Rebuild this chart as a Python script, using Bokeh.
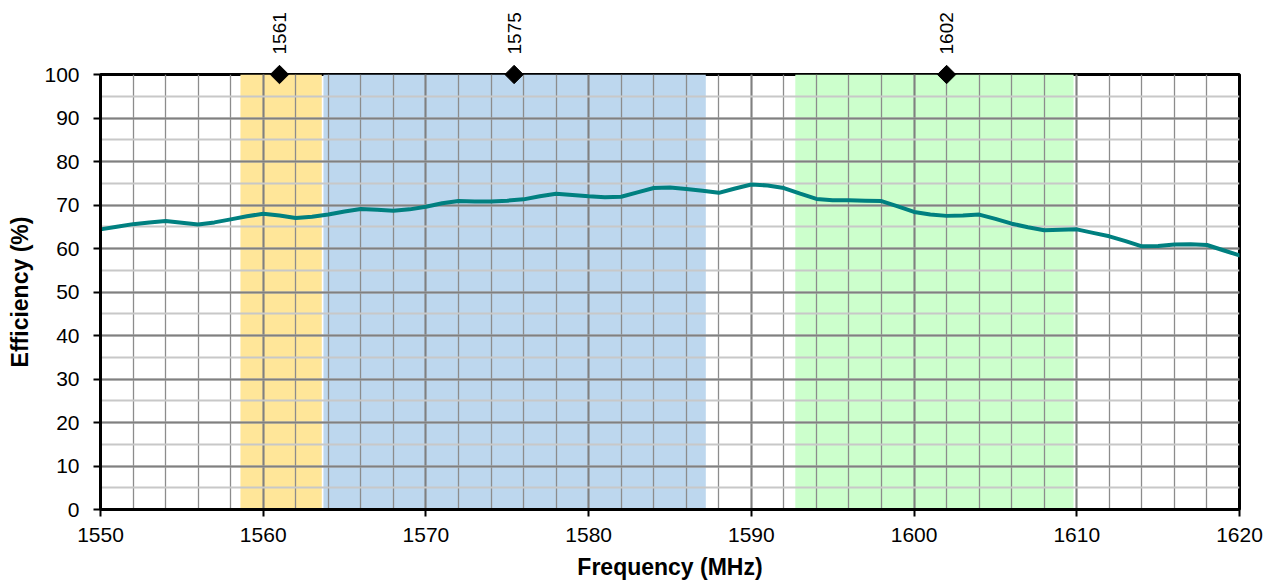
import math
from bokeh.plotting import figure
from bokeh.models import Range1d, SingleIntervalTicker
from bokeh.core.properties import value
from bokeh.embed import file_html
from bokeh.resources import INLINE

# ---- data ----
freq_mhz = list(range(1550, 1621))
efficiency = [
    64.4, 65.0, 65.6, 66.0, 66.3, 65.9, 65.5, 66.0, 66.7, 67.4,
    68.0, 67.6, 67.0, 67.3, 67.8, 68.5, 69.1, 68.9, 68.7, 69.0,
    69.6, 70.4, 70.9, 70.8, 70.8, 71.0, 71.3, 72.0, 72.6, 72.3,
    72.0, 71.8, 71.9, 72.9, 73.9, 74.0, 73.7, 73.3, 72.8, 73.8,
    74.7, 74.5, 73.9, 72.6, 71.4, 71.1, 71.1, 71.0, 70.9, 69.7,
    68.4, 67.8, 67.5, 67.6, 67.8, 66.8, 65.7, 64.9, 64.2, 64.3,
    64.4, 63.6, 62.8, 61.7, 60.5, 60.6, 60.9, 61.0, 60.8, 59.6,
    58.4,
]
band_left = [1558.6, 1563.7, 1592.7]
band_right = [1563.6, 1587.2, 1609.8]
band_colors = ["#FFE699", "#BDD7EE", "#CCFFCC"]
marker_freqs = [1561.0, 1575.42, 1602.0]
marker_labels = ["1561", "1575", "1602"]
marker_level = [100, 100, 100]

FONT = "Liberation Sans"

p = figure(width=1275, height=583, output_backend="svg", toolbar_location=None,
           x_range=Range1d(1550, 1620), y_range=Range1d(0, 100),
           min_border_left=100, min_border_right=36, min_border_top=74,
           min_border_bottom=74)
p.background_fill_color = "white"
p.border_fill_color = "white"
p.outline_line_color = "black"
p.outline_line_width = 3

# bands beneath grid
p.quad(left=band_left, right=band_right, bottom=0, top=100,
       fill_color=band_colors, line_color=None, level="image")

# tickers
p.xaxis.ticker = SingleIntervalTicker(interval=10, num_minor_ticks=5)
p.yaxis.ticker = SingleIntervalTicker(interval=10, num_minor_ticks=2)

# grids
p.xgrid.grid_line_color = "#808080"
p.xgrid.grid_line_width = 2
p.xgrid.minor_grid_line_color = "#8c8c8c"
p.xgrid.minor_grid_line_width = 1.3
p.ygrid.grid_line_color = "#808080"
p.ygrid.grid_line_width = 2
p.ygrid.minor_grid_line_color = "#c8c8c8"
p.ygrid.minor_grid_line_width = 2

# axes
for ax in (p.xaxis[0], p.yaxis[0]):
    ax.axis_line_color = "black"
    ax.axis_line_width = 3
    ax.major_tick_line_color = "black"
    ax.major_tick_line_width = 2
    ax.major_tick_in = 0
    ax.major_tick_out = 7
    ax.minor_tick_line_color = None
    ax.major_label_text_font = FONT
    ax.major_label_text_font_size = "21px"
    ax.major_label_text_color = "black"
    ax.axis_label_text_font = FONT
    ax.axis_label_text_font_size = "23px"
    ax.axis_label_text_font_style = "bold"
    ax.axis_label_text_color = "black"

p.xaxis.axis_label = "Frequency (MHz)"
p.yaxis.axis_label = "Efficiency (%)"
p.xaxis.major_label_standoff = 11
p.yaxis.major_label_standoff = 14
p.xaxis.axis_label_standoff = 9
p.yaxis.axis_label_standoff = 8

# curve
p.line(freq_mhz, efficiency, line_color="#008080", line_width=4,
       line_join="round", line_cap="round")

# markers on top edge
p.scatter(marker_freqs, marker_level, marker="square", size=13, angle=math.pi / 4,
          fill_color="black", line_color="black", level="overlay")

# rotated value labels above markers
p.text(x=marker_freqs, y=marker_level, text=marker_labels, angle=math.pi / 2,
       y_offset=-20, text_align="left", text_baseline="middle",
       text_font=value(FONT), text_font_size="19px", text_color="black",
       level="overlay")

open("out.html", "w").write(file_html(p, INLINE))
